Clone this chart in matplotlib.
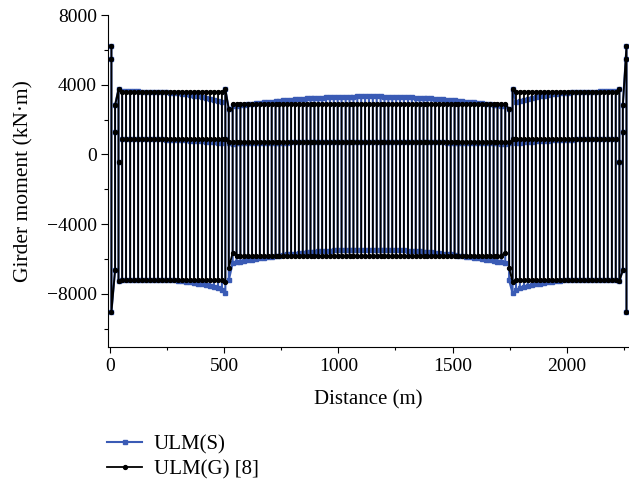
import matplotlib
matplotlib.use("Agg")
import matplotlib.pyplot as plt
from matplotlib.ticker import MultipleLocator

plt.rcParams['font.family'] = ['Liberation Serif', 'DejaVu Serif']
plt.rcParams['font.size'] = 14

# node positions along the girder (m)
dist_left = [6, 22, 37, 53, 70, 88, 105, 123, 140, 158, 175, 193, 210, 228, 245, 263,
             280, 298, 315, 333, 350, 368, 385, 403, 420, 438, 455, 473, 490, 505, 520]
dist_main = [537, 554, 571, 588, 605, 622, 639, 656, 674, 691, 708, 725, 742, 759, 776,
             793, 810, 827, 844, 861, 878, 895, 912, 929, 946, 963, 980, 997, 1014, 1032,
             1049, 1066, 1083, 1100, 1117, 1134, 1151, 1168, 1185, 1202, 1219, 1236, 1253,
             1270, 1287, 1305, 1322, 1339, 1356, 1373, 1390, 1407, 1424, 1441, 1458, 1475,
             1492, 1509, 1526, 1543, 1560, 1577, 1595, 1612, 1629, 1646, 1663, 1680, 1697,
             1714, 1731]
dist_right = [1748, 1763, 1778, 1795, 1813, 1830, 1848, 1865, 1883, 1900, 1918, 1935, 1953,
              1970, 1988, 2005, 2023, 2040, 2058, 2075, 2093, 2110, 2128, 2145, 2163, 2180,
              2198, 2215, 2231, 2246, 2262]

# ULM(G) [8] : moments at each node (kN.m), upper / middle / lower value
g_top_left = [6200, 2830, 3750, 3600, 3600, 3600, 3600, 3600, 3600, 3600, 3600, 3600, 3600,
              3600, 3600, 3600, 3600, 3600, 3600, 3600, 3600, 3600, 3600, 3600, 3600, 3600,
              3600, 3600, 3600, 3750, 2600]
g_mid_left = [5500, 1270, -450, 870, 870, 870, 870, 870, 870, 870, 870, 870, 870, 870, 870,
              870, 870, 870, 870, 870, 870, 870, 870, 870, 870, 870, 870, 870, 870, 870, 700]
g_bot_left = [-9050, -6640, -7270, -7180, -7180, -7180, -7180, -7180, -7180, -7180, -7180,
              -7180, -7180, -7180, -7180, -7180, -7180, -7180, -7180, -7180, -7180, -7180,
              -7180, -7180, -7180, -7180, -7180, -7180, -7180, -7330, -6520]
g_top_main = [2900, 2900, 2900, 2900, 2900, 2900, 2900, 2900, 2900, 2900, 2900, 2900, 2900,
              2900, 2900, 2900, 2900, 2900, 2900, 2900, 2900, 2900, 2900, 2900, 2900, 2900,
              2900, 2900, 2900, 2900, 2900, 2900, 2900, 2900, 2900, 2900, 2900, 2900, 2900,
              2900, 2900, 2900, 2900, 2900, 2900, 2900, 2900, 2900, 2900, 2900, 2900, 2900,
              2900, 2900, 2900, 2900, 2900, 2900, 2900, 2900, 2900, 2900, 2900, 2900, 2900,
              2900, 2900, 2900, 2900, 2900, 2900]
g_mid_main = [700, 700, 700, 700, 700, 700, 700, 700, 700, 700, 700, 700, 700, 700, 700, 700,
              700, 700, 700, 700, 700, 700, 700, 700, 700, 700, 700, 700, 700, 700, 700, 700,
              700, 700, 700, 700, 700, 700, 700, 700, 700, 700, 700, 700, 700, 700, 700, 700,
              700, 700, 700, 700, 700, 700, 700, 700, 700, 700, 700, 700, 700, 700, 700, 700,
              700, 700, 700, 700, 700, 700, 700]
g_bot_main = [-5640, -5800, -5800, -5800, -5800, -5800, -5800, -5800, -5800, -5800, -5800,
              -5800, -5800, -5800, -5800, -5800, -5800, -5800, -5800, -5800, -5800, -5800,
              -5800, -5800, -5800, -5800, -5800, -5800, -5800, -5800, -5800, -5800, -5800,
              -5800, -5800, -5800, -5800, -5800, -5800, -5800, -5800, -5800, -5800, -5800,
              -5800, -5800, -5800, -5800, -5800, -5800, -5800, -5800, -5800, -5800, -5800,
              -5800, -5800, -5800, -5800, -5800, -5800, -5800, -5800, -5800, -5800, -5800,
              -5800, -5800, -5800, -5800, -5640]
g_top_right = [2600, 3750, 3600, 3600, 3600, 3600, 3600, 3600, 3600, 3600, 3600, 3600, 3600,
               3600, 3600, 3600, 3600, 3600, 3600, 3600, 3600, 3600, 3600, 3600, 3600, 3600,
               3600, 3600, 3750, 2830, 6200]
g_mid_right = [700, 870, 870, 870, 870, 870, 870, 870, 870, 870, 870, 870, 870, 870, 870, 870,
               870, 870, 870, 870, 870, 870, 870, 870, 870, 870, 870, 870, -450, 1270, 5500]
g_bot_right = [-6520, -7330, -7180, -7180, -7180, -7180, -7180, -7180, -7180, -7180, -7180,
               -7180, -7180, -7180, -7180, -7180, -7180, -7180, -7180, -7180, -7180, -7180,
               -7180, -7180, -7180, -7180, -7180, -7180, -7270, -6640, -9050]

# ULM(S)
s_top_left = [6200, 2830, 3750, 3620, 3620, 3620, 3620, 3620, 3610, 3610, 3600, 3600, 3590,
              3580, 3570, 3550, 3530, 3510, 3480, 3450, 3420, 3380, 3340, 3290, 3240, 3190,
              3130, 3070, 3000, 3750, 2600]
s_mid_left = [5500, 1270, -450, 870, 870, 870, 870, 870, 870, 870, 870, 870, 870, 860, 850,
              840, 830, 820, 810, 800, 790, 775, 760, 745, 730, 710, 690, 670, 650, 870, 680]
s_bot_left = [-9050, -6640, -7270, -7180, -7180, -7180, -7180, -7180, -7180, -7180, -7180,
              -7180, -7180, -7180, -7180, -7200, -7220, -7240, -7270, -7300, -7330, -7370,
              -7410, -7450, -7500, -7550, -7610, -7680, -7760, -7970, -7220]
s_top_main = [2750, 2780, 2810, 2850, 2880, 2900, 2930, 2960, 2980, 3010, 3030, 3060, 3080,
              3100, 3120, 3140, 3160, 3180, 3190, 3210, 3220, 3240, 3250, 3260, 3270, 3280,
              3290, 3300, 3310, 3310, 3320, 3320, 3330, 3330, 3330, 3330, 3330, 3330, 3330,
              3320, 3320, 3310, 3310, 3300, 3290, 3280, 3270, 3260, 3250, 3240, 3220, 3210,
              3190, 3180, 3160, 3140, 3120, 3100, 3080, 3060, 3030, 3010, 2980, 2960, 2930,
              2900, 2880, 2850, 2810, 2780, 2750]
s_mid_main = [620, 630, 630, 640, 640, 650, 650, 660, 660, 670, 670, 670, 680, 680, 680, 690,
              690, 690, 700, 700, 700, 700, 710, 710, 710, 710, 710, 720, 720, 720, 720, 720,
              720, 720, 720, 720, 720, 720, 720, 720, 720, 720, 720, 710, 710, 710, 710, 710,
              700, 700, 700, 700, 690, 690, 690, 680, 680, 680, 670, 670, 670, 660, 660, 650,
              650, 640, 640, 630, 630, 620, 620]
s_bot_main = [-6240, -6200, -6150, -6110, -6070, -6030, -6000, -5960, -5930, -5890, -5860,
              -5830, -5800, -5770, -5740, -5720, -5690, -5670, -5640, -5620, -5600, -5590,
              -5570, -5550, -5540, -5520, -5510, -5500, -5490, -5480, -5480, -5470, -5470,
              -5460, -5460, -5460, -5460, -5460, -5470, -5470, -5480, -5480, -5490, -5500,
              -5510, -5520, -5540, -5550, -5570, -5590, -5600, -5620, -5640, -5670, -5690,
              -5720, -5740, -5770, -5800, -5830, -5860, -5890, -5930, -5960, -6000, -6030,
              -6070, -6110, -6150, -6200, -6240]
s_top_right = [2600, 3750, 3000, 3070, 3130, 3190, 3240, 3290, 3340, 3380, 3420, 3450, 3480,
               3510, 3530, 3550, 3570, 3580, 3590, 3600, 3600, 3610, 3610, 3620, 3620, 3620,
               3620, 3620, 3750, 2830, 6200]
s_mid_right = [680, 870, 650, 670, 690, 710, 730, 745, 760, 775, 790, 800, 810, 820, 830, 840,
               850, 860, 870, 870, 870, 870, 870, 870, 870, 870, 870, 870, -450, 1270, 5500]
s_bot_right = [-7220, -7970, -7760, -7680, -7610, -7550, -7500, -7450, -7410, -7370, -7330,
               -7300, -7270, -7240, -7220, -7200, -7180, -7180, -7180, -7180, -7180, -7180,
               -7180, -7180, -7180, -7180, -7180, -7180, -7270, -6640, -9050]

labels = ['ULM(S)', 'ULM(G) [8]']


def zigzag(x, top, mid, bot):
    # each node drawn as a vertical run top-mid-bot, direction alternating
    xs, ys = [], []
    for k in range(len(x)):
        vals = [top[k], mid[k], bot[k]]
        if k % 2:
            vals = vals[::-1]
        xs += [x[k]] * 3
        ys += vals
    return xs, ys


dist = dist_left + dist_main + dist_right
sx, sy = zigzag(dist, s_top_left + s_top_main + s_top_right,
                s_mid_left + s_mid_main + s_mid_right,
                s_bot_left + s_bot_main + s_bot_right)
gx, gy = zigzag(dist, g_top_left + g_top_main + g_top_right,
                g_mid_left + g_mid_main + g_mid_right,
                g_bot_left + g_bot_main + g_bot_right)

fig = plt.figure(figsize=(6.29, 4.79), dpi=100)
ax = fig.add_axes([108 / 629, 1 - 347 / 479, 1 - 108 / 629, (347 - 15) / 479])

l1, = ax.plot(sx, sy, color='#3a5bb5', lw=1.5, marker='s', ms=2.6, label=labels[0])
l2, = ax.plot(gx, gy, color='black', lw=1.3, marker='o', ms=2.8, label=labels[1])

ax.set_xlim(-9, 2273)
ax.set_ylim(-11050, 8000)
ax.xaxis.set_major_locator(MultipleLocator(500))
ax.xaxis.set_minor_locator(MultipleLocator(250))
ax.yaxis.set_major_locator(MultipleLocator(4000))
ax.yaxis.set_minor_locator(MultipleLocator(2000))
ax.tick_params(which='both', direction='out', width=0.8, labelsize=14)
ax.tick_params(axis='x', which='major', length=4.5)
ax.tick_params(axis='x', which='minor', length=2.5)
ax.tick_params(axis='y', which='major', length=5, pad=3)
ax.tick_params(axis='y', which='minor', length=3)
for s in ['top', 'right']:
    ax.spines[s].set_visible(False)

ax.set_xlabel('Distance (m)', fontsize=15, labelpad=11)
ax.set_ylabel('Girder moment (kN·m)', fontsize=15.5, labelpad=10)

fig.legend(handles=[l1, l2], loc='lower left', bbox_to_anchor=(107 / 629, 0.0),
           frameon=False, fontsize=15, handlelength=1.7, handletextpad=0.55,
           labelspacing=0.25, borderpad=0, borderaxespad=0, numpoints=1)

fig.savefig('out.png', dpi=100)
